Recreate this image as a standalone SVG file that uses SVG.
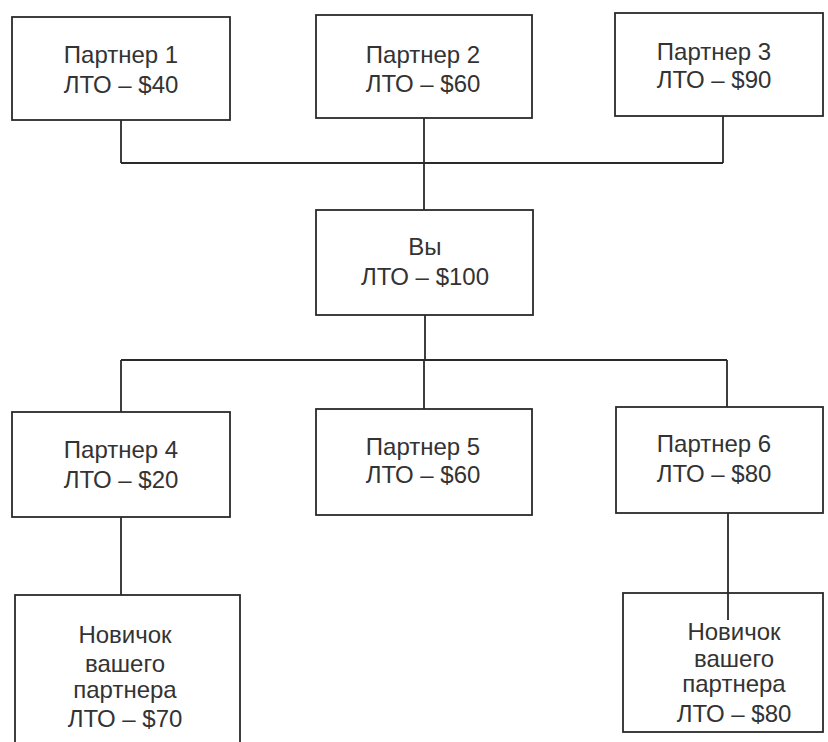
<svg xmlns="http://www.w3.org/2000/svg" width="828" height="742" viewBox="0 0 828 742">
<style>
.box{fill:#fff;stroke:#2a2a2a;stroke-width:1.8}
.lbl{font-family:"Liberation Sans",Arial,sans-serif;font-size:24px;fill:#333;text-anchor:middle}
.con{stroke:#2a2a2a;stroke-width:1.8;fill:none}
</style>
<rect width="828" height="742" fill="#fff"/>
<g id="p1"><rect class="box" x="12" y="17" width="218" height="103"/>
<text class="lbl" x="121" y="63">Партнер 1</text><text class="lbl" x="121" y="93">ЛТО – $40</text></g>
<g id="p2"><rect class="box" x="316" y="15" width="216" height="103"/>
<text class="lbl" x="423" y="63">Партнер 2</text><text class="lbl" x="423" y="92">ЛТО – $60</text></g>
<g id="p3"><rect class="box" x="615" y="13" width="208" height="103"/>
<text class="lbl" x="714" y="60">Партнер 3</text><text class="lbl" x="714" y="88">ЛТО – $90</text></g>
<g id="you"><rect class="box" x="316" y="210" width="217" height="105"/>
<text class="lbl" x="425" y="255">Вы</text><text class="lbl" x="425" y="285">ЛТО – $100</text></g>
<g id="p4"><rect class="box" x="12" y="412" width="218" height="105"/>
<text class="lbl" x="121" y="458">Партнер 4</text><text class="lbl" x="121" y="488">ЛТО – $20</text></g>
<g id="p5"><rect class="box" x="316" y="409" width="216" height="106"/>
<text class="lbl" x="423" y="455">Партнер 5</text><text class="lbl" x="423" y="483">ЛТО – $60</text></g>
<g id="p6"><rect class="box" x="616" y="407" width="207" height="106"/>
<text class="lbl" x="714" y="452">Партнер 6</text><text class="lbl" x="714" y="482">ЛТО – $80</text></g>
<g id="n1"><rect class="box" x="15" y="595" width="225" height="160"/>
<text class="lbl" x="125" y="643">Новичок</text><text class="lbl" x="125" y="672">вашего</text><text class="lbl" x="125" y="698">партнера</text><text class="lbl" x="125" y="727">ЛТО – $70</text></g>
<g id="n2"><rect class="box" x="623" y="593" width="200" height="139"/>
<text class="lbl" x="734" y="640">Новичок</text><text class="lbl" x="734" y="667">вашего</text><text class="lbl" x="734" y="692">партнера</text><text class="lbl" x="734" y="722">ЛТО – $80</text></g>
<g id="connectors">
<path class="con" d="M121 120V163M424 118V210M723 116V163M121 163H723"/>
<path class="con" d="M425 315V360M121 360H727M121 360V412M424 360V409M727 360V407"/>
<path class="con" d="M121 517V595M728 513V620"/>
</g>
</svg>
